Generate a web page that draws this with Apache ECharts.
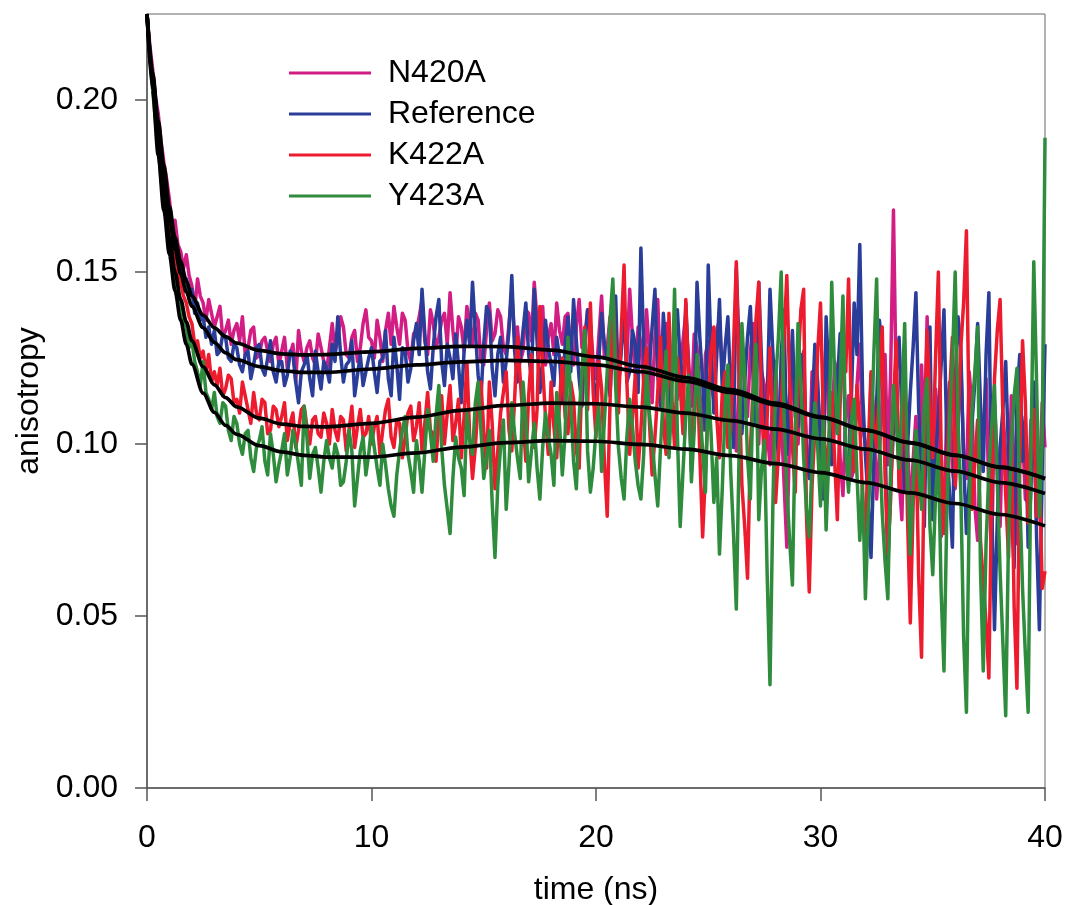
<!DOCTYPE html>
<html>
<head>
<meta charset="utf-8">
<script src="https://cdn.jsdelivr.net/npm/echarts@6/dist/echarts.min.js"></script>
<style>
html,body{margin:0;padding:0;background:#fff;}
#chart{width:1065px;height:905px;}
</style>
</head>
<body>
<div id="chart"></div>
<script>
// sample times (ns)
const timeNs = [
0,0.125,0.25,0.375,0.5,0.625,0.75,0.875,1,1.125,1.25,1.375,1.5,1.625,1.75,1.875,
2,2.125,2.25,2.375,2.5,2.625,2.75,2.875,3,3.125,3.25,3.375,3.5,3.625,3.75,3.875,
4,4.125,4.25,4.375,4.5,4.625,4.75,4.875,5,5.125,5.25,5.375,5.5,5.625,5.75,5.875,
6,6.125,6.25,6.375,6.5,6.625,6.75,6.875,7,7.125,7.25,7.375,7.5,7.625,7.75,7.875,
8,8.125,8.25,8.375,8.5,8.625,8.75,8.875,9,9.125,9.25,9.375,9.5,9.625,9.75,9.875,
10,10.125,10.25,10.375,10.5,10.625,10.75,10.875,11,11.125,11.25,11.375,11.5,11.625,11.75,11.875,
12,12.125,12.25,12.375,12.5,12.625,12.75,12.875,13,13.125,13.25,13.375,13.5,13.625,13.75,13.875,
14,14.125,14.25,14.375,14.5,14.625,14.75,14.875,15,15.125,15.25,15.375,15.5,15.625,15.75,15.875,
16,16.125,16.25,16.375,16.5,16.625,16.75,16.875,17,17.125,17.25,17.375,17.5,17.625,17.75,17.875,
18,18.125,18.25,18.375,18.5,18.625,18.75,18.875,19,19.125,19.25,19.375,19.5,19.625,19.75,19.875,
20,20.125,20.25,20.375,20.5,20.625,20.75,20.875,21,21.125,21.25,21.375,21.5,21.625,21.75,21.875,
22,22.125,22.25,22.375,22.5,22.625,22.75,22.875,23,23.125,23.25,23.375,23.5,23.625,23.75,23.875,
24,24.125,24.25,24.375,24.5,24.625,24.75,24.875,25,25.125,25.25,25.375,25.5,25.625,25.75,25.875,
26,26.125,26.25,26.375,26.5,26.625,26.75,26.875,27,27.125,27.25,27.375,27.5,27.625,27.75,27.875,
28,28.125,28.25,28.375,28.5,28.625,28.75,28.875,29,29.125,29.25,29.375,29.5,29.625,29.75,29.875,
30,30.125,30.25,30.375,30.5,30.625,30.75,30.875,31,31.125,31.25,31.375,31.5,31.625,31.75,31.875,
32,32.125,32.25,32.375,32.5,32.625,32.75,32.875,33,33.125,33.25,33.375,33.5,33.625,33.75,33.875,
34,34.125,34.25,34.375,34.5,34.625,34.75,34.875,35,35.125,35.25,35.375,35.5,35.625,35.75,35.875,
36,36.125,36.25,36.375,36.5,36.625,36.75,36.875,37,37.125,37.25,37.375,37.5,37.625,37.75,37.875,
38,38.125,38.25,38.375,38.5,38.625,38.75,38.875,39,39.125,39.25,39.375,39.5,39.625,39.75,39.875,
40];

const n420a = [
0.225,0.216,0.209,0.201,0.196,0.188,0.182,0.177,0.171,0.163,0.165,0.158,0.156,0.151,0.155,0.149,
0.146,0.139,0.148,0.143,0.141,0.136,0.142,0.138,0.134,0.137,0.140,0.131,0.133,0.136,0.129,0.133,
0.135,0.130,0.137,0.126,0.128,0.133,0.134,0.125,0.126,0.130,0.131,0.127,0.124,0.129,0.131,0.123,
0.127,0.131,0.122,0.126,0.129,0.118,0.133,0.127,0.124,0.128,0.130,0.125,0.123,0.132,0.128,0.124,
0.121,0.128,0.135,0.127,0.130,0.137,0.134,0.126,0.125,0.131,0.133,0.124,0.128,0.135,0.139,0.131,
0.130,0.125,0.136,0.131,0.124,0.133,0.138,0.129,0.140,0.134,0.129,0.138,0.136,0.127,0.124,0.132,
0.133,0.137,0.142,0.130,0.126,0.139,0.135,0.128,0.131,0.136,0.138,0.129,0.144,0.133,0.125,0.137,
0.134,0.127,0.140,0.135,0.129,0.138,0.136,0.124,0.123,0.133,0.141,0.130,0.132,0.139,0.137,0.128,
0.126,0.135,0.144,0.131,0.134,0.124,0.127,0.139,0.138,0.130,0.147,0.136,0.130,0.140,0.123,0.131,
0.135,0.126,0.141,0.133,0.129,0.137,0.138,0.127,0.123,0.134,0.142,0.128,0.131,0.139,0.135,0.124,
0.119,0.131,0.143,0.125,0.128,0.137,0.133,0.121,0.116,0.129,0.136,0.124,0.145,0.131,0.120,0.134,
0.129,0.118,0.139,0.127,0.112,0.131,0.142,0.119,0.125,0.135,0.108,0.121,0.134,0.113,0.122,0.130,
0.138,0.124,0.111,0.132,0.128,0.115,0.104,0.126,0.130,0.118,0.113,0.133,0.136,0.121,0.105,0.117,
0.123,0.110,0.098,0.119,0.130,0.114,0.108,0.127,0.135,0.112,0.100,0.121,0.117,0.104,0.094,0.115,
0.124,0.101,0.108,0.089,0.070,0.103,0.120,0.111,0.100,0.118,0.127,0.098,0.092,0.121,0.114,0.103,
0.094,0.116,0.129,0.107,0.100,0.124,0.120,0.096,0.085,0.108,0.114,0.090,0.093,0.117,0.129,0.105,
0.100,0.088,0.120,0.108,0.084,0.097,0.113,0.126,0.094,0.121,0.168,0.115,0.090,0.078,0.114,0.101,
0.079,0.095,0.108,0.086,0.123,0.102,0.137,0.099,0.083,0.116,0.104,0.073,0.079,0.109,0.118,0.092,
0.087,0.106,0.124,0.097,0.090,0.121,0.110,0.082,0.072,0.098,0.104,0.119,0.085,0.068,0.112,0.095,
0.076,0.109,0.097,0.080,0.114,0.092,0.071,0.096,0.103,0.084,0.083,0.107,0.104,0.077,0.086,0.112,
0.099];

const reference = [
0.225,0.215,0.207,0.200,0.193,0.185,0.179,0.172,0.166,0.161,0.158,0.154,0.153,0.147,0.148,0.143,
0.145,0.138,0.141,0.136,0.137,0.131,0.134,0.129,0.133,0.126,0.127,0.132,0.131,0.125,0.124,0.129,
0.128,0.123,0.121,0.126,0.127,0.119,0.123,0.128,0.129,0.122,0.120,0.125,0.130,0.121,0.118,0.124,
0.124,0.117,0.120,0.127,0.126,0.118,0.112,0.121,0.123,0.126,0.119,0.114,0.127,0.121,0.116,0.124,
0.122,0.118,0.129,0.124,0.137,0.126,0.118,0.123,0.124,0.130,0.114,0.120,0.126,0.117,0.121,0.125,
0.128,0.121,0.115,0.124,0.125,0.133,0.119,0.114,0.131,0.123,0.113,0.128,0.127,0.118,0.122,0.130,
0.135,0.126,0.145,0.132,0.121,0.116,0.128,0.137,0.142,0.124,0.117,0.129,0.125,0.119,0.132,0.123,
0.112,0.127,0.136,0.129,0.147,0.133,0.120,0.113,0.129,0.140,0.138,0.122,0.114,0.126,0.131,0.118,
0.124,0.133,0.149,0.127,0.118,0.125,0.133,0.141,0.126,0.119,0.145,0.130,0.115,0.124,0.136,0.128,
0.123,0.117,0.131,0.125,0.112,0.129,0.137,0.121,0.142,0.130,0.119,0.111,0.128,0.139,0.134,0.120,
0.110,0.124,0.138,0.129,0.125,0.114,0.131,0.143,0.116,0.127,0.140,0.118,0.121,0.133,0.129,0.115,
0.157,0.128,0.113,0.122,0.134,0.145,0.120,0.111,0.138,0.126,0.107,0.119,0.130,0.139,0.124,0.112,
0.141,0.120,0.092,0.110,0.147,0.131,0.118,0.104,0.152,0.127,0.109,0.125,0.142,0.116,0.128,0.137,
0.116,0.099,0.151,0.128,0.103,0.118,0.131,0.140,0.119,0.106,0.147,0.124,0.100,0.113,0.145,0.127,
0.112,0.095,0.126,0.139,0.097,0.114,0.133,0.108,0.105,0.126,0.122,0.096,0.090,0.110,0.129,0.118,
0.101,0.084,0.137,0.119,0.094,0.106,0.118,0.132,0.133,0.097,0.088,0.113,0.141,0.126,0.158,0.115,
0.097,0.083,0.067,0.095,0.112,0.136,0.126,0.102,0.064,0.088,0.104,0.121,0.131,0.109,0.086,0.099,
0.115,0.128,0.144,0.110,0.093,0.076,0.121,0.134,0.078,0.096,0.108,0.123,0.139,0.101,0.085,0.070,
0.117,0.137,0.128,0.095,0.074,0.089,0.106,0.118,0.135,0.112,0.092,0.126,0.144,0.083,0.046,0.078,
0.099,0.110,0.124,0.097,0.081,0.064,0.113,0.126,0.095,0.108,0.070,0.087,0.118,0.073,0.046,0.092,
0.129];

const k422a = [
0.225,0.214,0.205,0.196,0.189,0.181,0.176,0.169,0.164,0.158,0.155,0.150,0.147,0.143,0.141,0.137,
0.135,0.129,0.130,0.125,0.127,0.121,0.126,0.118,0.121,0.117,0.122,0.114,0.116,0.120,0.119,0.112,
0.113,0.109,0.118,0.114,0.110,0.106,0.115,0.109,0.107,0.113,0.112,0.103,0.104,0.111,0.110,0.105,
0.108,0.112,0.101,0.106,0.109,0.099,0.104,0.110,0.111,0.105,0.100,0.107,0.108,0.103,0.102,0.109,
0.106,0.100,0.110,0.104,0.101,0.108,0.107,0.098,0.104,0.111,0.099,0.105,0.110,0.102,0.103,0.108,
0.100,0.105,0.108,0.097,0.104,0.110,0.113,0.102,0.099,0.107,0.106,0.096,0.102,0.109,0.111,0.101,
0.105,0.112,0.098,0.106,0.115,0.104,0.103,0.095,0.108,0.114,0.100,0.109,0.117,0.101,0.106,0.113,
0.096,0.108,0.124,0.102,0.090,0.099,0.112,0.118,0.104,0.093,0.118,0.106,0.087,0.098,0.109,0.115,
0.121,0.104,0.098,0.113,0.131,0.119,0.107,0.095,0.114,0.126,0.099,0.110,0.140,0.122,0.108,0.097,
0.118,0.105,0.096,0.112,0.125,0.108,0.103,0.118,0.113,0.098,0.093,0.121,0.134,0.110,0.141,0.115,
0.102,0.124,0.116,0.095,0.079,0.112,0.145,0.126,0.109,0.133,0.152,0.118,0.097,0.108,0.120,0.093,
0.104,0.119,0.128,0.107,0.091,0.102,0.115,0.131,0.106,0.097,0.138,0.114,0.099,0.125,0.117,0.103,
0.142,0.118,0.094,0.110,0.124,0.097,0.073,0.092,0.111,0.127,0.134,0.108,0.096,0.115,0.121,0.099,
0.104,0.128,0.153,0.117,0.088,0.076,0.061,0.098,0.117,0.136,0.147,0.112,0.094,0.108,0.128,0.105,
0.083,0.097,0.109,0.131,0.149,0.118,0.099,0.086,0.122,0.139,0.145,0.079,0.057,0.088,0.104,0.127,
0.141,0.108,0.089,0.102,0.115,0.096,0.078,0.112,0.130,0.121,0.148,0.109,0.092,0.117,0.106,0.084,
0.073,0.098,0.121,0.106,0.099,0.118,0.134,0.091,0.068,0.084,0.112,0.130,0.087,0.101,0.125,0.079,
0.048,0.082,0.103,0.061,0.038,0.097,0.133,0.112,0.096,0.125,0.150,0.098,0.074,0.090,0.114,0.131,
0.088,0.106,0.128,0.141,0.162,0.103,0.081,0.095,0.107,0.072,0.060,0.048,0.032,0.087,0.119,0.133,
0.142,0.108,0.085,0.067,0.104,0.053,0.029,0.094,0.130,0.112,0.077,0.101,0.110,0.079,0.092,0.058,
0.063];

const y423a = [
0.225,0.213,0.203,0.194,0.186,0.177,0.171,0.164,0.159,0.152,0.149,0.143,0.141,0.136,0.134,0.128,
0.130,0.124,0.121,0.117,0.124,0.115,0.113,0.110,0.115,0.108,0.106,0.112,0.111,0.104,0.101,0.108,
0.106,0.100,0.097,0.103,0.104,0.096,0.092,0.099,0.101,0.105,0.095,0.091,0.103,0.097,0.089,0.094,
0.098,0.103,0.091,0.096,0.104,0.100,0.094,0.088,0.111,0.102,0.090,0.097,0.099,0.093,0.086,0.095,
0.101,0.096,0.093,0.100,0.097,0.088,0.089,0.095,0.104,0.098,0.082,0.090,0.098,0.102,0.091,0.097,
0.105,0.099,0.093,0.088,0.100,0.094,0.087,0.082,0.079,0.091,0.098,0.104,0.108,0.097,0.092,0.086,
0.101,0.095,0.086,0.098,0.110,0.103,0.095,0.108,0.117,0.099,0.088,0.081,0.074,0.090,0.102,0.096,
0.093,0.085,0.109,0.101,0.097,0.112,0.118,0.104,0.090,0.096,0.104,0.083,0.067,0.088,0.099,0.107,
0.081,0.094,0.112,0.103,0.096,0.090,0.118,0.107,0.089,0.098,0.106,0.093,0.084,0.099,0.109,0.102,
0.097,0.088,0.115,0.106,0.091,0.103,0.131,0.112,0.095,0.087,0.108,0.121,0.133,0.098,0.086,0.093,
0.104,0.111,0.092,0.107,0.121,0.136,0.148,0.117,0.099,0.090,0.084,0.102,0.113,0.105,0.095,0.088,
0.084,0.097,0.122,0.109,0.101,0.091,0.082,0.099,0.114,0.127,0.096,0.113,0.145,0.103,0.076,0.092,
0.108,0.120,0.089,0.104,0.126,0.111,0.098,0.086,0.117,0.103,0.083,0.096,0.068,0.087,0.110,0.123,
0.092,0.074,0.052,0.098,0.135,0.119,0.096,0.084,0.115,0.129,0.078,0.093,0.101,0.062,0.030,0.081,
0.118,0.131,0.150,0.109,0.087,0.072,0.059,0.104,0.135,0.117,0.096,0.081,0.073,0.095,0.112,0.099,
0.082,0.108,0.075,0.097,0.147,0.121,0.103,0.118,0.143,0.099,0.086,0.107,0.113,0.091,0.072,0.088,
0.055,0.079,0.097,0.126,0.148,0.102,0.080,0.066,0.055,0.094,0.117,0.106,0.093,0.112,0.135,0.091,
0.068,0.087,0.104,0.092,0.081,0.111,0.119,0.076,0.062,0.085,0.098,0.057,0.034,0.079,0.107,0.124,
0.150,0.106,0.086,0.044,0.022,0.081,0.110,0.121,0.134,0.064,0.034,0.071,0.092,0.105,0.117,0.089,
0.063,0.042,0.021,0.073,0.099,0.114,0.122,0.085,0.058,0.039,0.022,0.097,0.153,0.118,0.079,0.101,
0.189];

// fitted curves
const fitTime = [0,0.25,0.5,0.75,1,1.25,1.5,1.75,2,2.5,3,3.5,4,5,6,7,8,10,12,14,16,18,20,22,24,26,28,30,32,34,36,38,40];
const fitN420A = [0.225,0.208,0.194,0.181,0.169,0.160,0.153,0.1475,0.143,0.1375,0.1338,0.1312,0.1293,0.1272,0.1262,0.1259,0.1260,0.1268,0.1278,0.1284,0.1283,0.1273,0.1253,0.1225,0.1193,0.1158,0.1119,0.1079,0.1041,0.1004,0.0968,0.0933,0.0900];
const fitReference = [0.225,0.207,0.192,0.178,0.1655,0.1565,0.1495,0.1442,0.1400,0.1338,0.1295,0.1265,0.1245,0.1225,0.1213,0.1208,0.1208,0.1218,0.1230,0.1239,0.1243,0.1240,0.1230,0.1210,0.1182,0.1150,0.1114,0.1077,0.1040,0.1003,0.0967,0.0932,0.0899];
const fitK422A = [0.225,0.205,0.188,0.173,0.160,0.150,0.142,0.1355,0.1300,0.1225,0.1172,0.1135,0.1108,0.1075,0.1058,0.1051,0.1050,0.1060,0.1078,0.1098,0.1112,0.1119,0.1117,0.1107,0.1090,0.1068,0.1043,0.1015,0.0985,0.0953,0.0921,0.0888,0.0856];
const fitY423A = [0.225,0.203,0.184,0.168,0.155,0.1445,0.136,0.129,0.1232,0.1148,0.1092,0.1054,0.1028,0.0995,0.0977,0.0967,0.0962,0.0962,0.0974,0.0991,0.1004,0.1010,0.1008,0.0999,0.0985,0.0966,0.0943,0.0917,0.0888,0.0858,0.0827,0.0795,0.0762];

const seriesNames = ['N420A','Reference','K422A','Y423A'];
const seriesColors = ['#d21d84','#2a3d99','#ec1c2e','#2f8c3d'];
const yTicks = [0,0.05,0.10,0.15,0.20];

const dataSets = [n420a, reference, k422a, y423a];
const fitSets = [fitN420A, fitReference, fitK422A, fitY423A];

const FONT = '"Liberation Sans", Arial, Helvetica, sans-serif';
const FS = 32;
const chart = echarts.init(document.getElementById('chart'), null, {renderer:'canvas'});

const series = [];
dataSets.forEach((arr, k) => {
  series.push({
    name: seriesNames[k], type: 'line', symbol: 'none', silent: true,
    data: timeNs.map((t, i) => [t, arr[i]]),
    lineStyle: {color: seriesColors[k], width: 3.5, join: 'round'},
    itemStyle: {color: seriesColors[k]},
    z: 2 + k
  });
});
fitSets.forEach((arr, k) => {
  series.push({
    name: 'fit ' + seriesNames[k], type: 'line', symbol: 'none', silent: true,
    smooth: 0.3, smoothMonotone: 'x',
    data: fitTime.map((t, i) => [t, arr[i]]),
    lineStyle: {color: '#000', width: 3.7},
    z: 10
  });
});

const axisCol = '#555';
chart.setOption({
  animation: false,
  backgroundColor: '#fff',
  grid: {left: 147, right: 20, top: 14, bottom: 117, outerBoundsMode: 'none', containLabel: false,
    show: true, borderColor: '#666', borderWidth: 1, backgroundColor: 'transparent'},
  legend: {
    data: seriesNames, orient: 'vertical', left: 289, top: 57, padding: 0,
    icon: 'rect', itemWidth: 82, itemHeight: 3, itemGap: 9,
    textStyle: {fontFamily: FONT, fontSize: FS, color: '#000', padding: [0,0,0,12]},
    selectedMode: false
  },
  xAxis: {
    type: 'value', min: 0, max: 40, interval: 10,
    name: 'time (ns)', nameLocation: 'middle', nameGap: 86,
    nameTextStyle: {fontFamily: FONT, fontSize: FS, color: '#000'},
    axisLine: {show: true, lineStyle: {color: axisCol, width: 1.5}},
    axisTick: {show: true, length: 13, lineStyle: {color: axisCol, width: 1.5}},
    axisLabel: {fontFamily: FONT, fontSize: FS, color: '#000', margin: 34},
    splitLine: {show: false}
  },
  yAxis: {
    type: 'value', min: 0, max: 0.225, interval: 0.05,
    name: 'anisotropy', nameLocation: 'middle', nameGap: 101,
    nameTextStyle: {fontFamily: FONT, fontSize: FS, color: '#000'},
    axisLine: {show: true, lineStyle: {color: axisCol, width: 1.5}},
    axisTick: {show: true, length: 12, customValues: yTicks, lineStyle: {color: axisCol, width: 1.5}},
    axisLabel: {fontFamily: FONT, fontSize: FS, color: '#000', margin: 29, customValues: yTicks,
      formatter: v => v.toFixed(2)},
    splitLine: {show: false}
  },
  series: series
});
</script>
</body>
</html>
